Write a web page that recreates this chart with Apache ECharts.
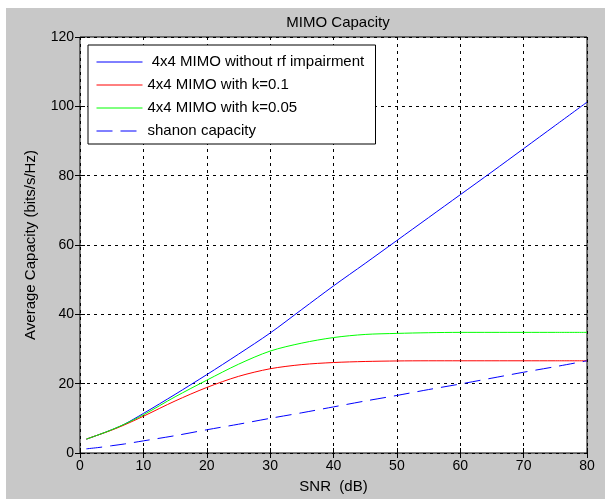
<!DOCTYPE html>
<html><head><meta charset="utf-8">
<script src="https://cdn.jsdelivr.net/npm/echarts@6/dist/echarts.min.js"></script>
<style>html,body{margin:0;padding:0;background:#fff}#c{width:605px;height:499px}</style>
</head><body><div id="c"></div>
<script>
var snr = [1, 3, 5, 7, 10, 15, 20, 25, 30, 35, 40, 45, 50, 55, 60, 65, 70, 75, 80];
var noImpairment = [4.0, 5.3, 6.7, 8.3, 11.4, 16.9, 22.6, 28.5, 34.6, 41.4, 48.2, 54.7, 61.3, 67.9, 74.5, 81.1, 87.8, 94.5, 101.2];
var k01 = [4.0, 5.3, 6.6, 8.1, 10.6, 15.0, 18.9, 22.1, 24.3, 25.5, 26.1, 26.4, 26.55, 26.6, 26.6, 26.6, 26.6, 26.6, 26.6];
var k005 = [4.0, 5.3, 6.7, 8.3, 11.0, 16.2, 21.0, 25.6, 29.4, 31.7, 33.3, 34.2, 34.5, 34.7, 34.8, 34.8, 34.8, 34.8, 34.8];
var shannon = [1.2, 1.6, 2.1, 2.6, 3.5, 5.0, 6.7, 8.3, 10.0, 11.6, 13.3, 15.0, 16.6, 18.3, 19.9, 21.6, 23.3, 24.9, 26.6];
var names = [' 4x4 MIMO without rf impairment', '4x4 MIMO with k=0.1', '4x4 MIMO with k=0.05', 'shanon capacity'];

function pairs(ys){ return snr.map(function(x,i){ return [x, ys[i]]; }); }
var font = 'Liberation Sans, Arial, sans-serif';
var chart = echarts.init(document.getElementById('c'));
var grid = {left: 80, top: 37, width: 507, height: 418};
function mk(name, ys, color, dashed){
  return {name: name, type: 'line', data: pairs(ys), showSymbol: false, symbol: 'none', smooth: 0.3,
    lineStyle: {color: color, width: 1, type: dashed ? [16, 8] : 'solid'}, itemStyle: {color: color},
    animation: false, z: 3};
}
var xBase = {type: 'value', min: 0, max: 80, interval: 10};
var yBase = {type: 'value', min: 0, max: 120, interval: 20};
chart.setOption({
  animation: false,
  backgroundColor: '#fff',
  graphic: [{type: 'rect', left: 6, top: 8, shape: {width: 600, height: 492}, style: {fill: '#c8c8c8'}, z: -10}],
  title: {text: 'MIMO Capacity', left: 333, top: 10, textAlign: 'center',
    textStyle: {fontFamily: font, fontSize: 15, fontWeight: 'normal', color: '#000'}},
  grid: Object.assign({show: true, backgroundColor: '#fff', borderColor: '#000', borderWidth: 1}, grid),
  legend: {orient: 'vertical', left: 88, top: 45, padding: [8, 8, 4, 8],
    backgroundColor: '#fff', borderColor: '#000', borderWidth: 1, borderRadius: 0,
    itemWidth: 46, itemHeight: 10, itemGap: 5,
    itemStyle: {opacity: 0}, lineStyle: {width: 1},
    textStyle: {fontFamily: font, fontSize: 15, lineHeight: 18, color: '#000', width: 220},
    data: names.map(function(n){ return {name: n}; })},
  xAxis: [
    Object.assign({}, xBase, {position: 'bottom', name: 'SNR  (dB)', nameLocation: 'middle', nameGap: 26,
      nameTextStyle: {fontFamily: font, fontSize: 15, color: '#000'},
      axisLine: {show: false}, axisTick: {inside: true, length: 5, lineStyle: {color: '#000'}},
      axisLabel: {fontFamily: font, fontSize: 14, color: '#000', margin: 6},
      splitLine: {show: true, lineStyle: {color: '#000', type: [3, 4], width: 1}}}),
    Object.assign({}, xBase, {position: 'top', axisLine: {show: false}, axisLabel: {show: false},
      axisTick: {inside: true, length: 5, lineStyle: {color: '#000'}}, splitLine: {show: false}})
  ],
  yAxis: [
    Object.assign({}, yBase, {position: 'left', name: 'Average Capacity (bits/s/Hz)', nameLocation: 'middle', nameGap: 42,
      nameTextStyle: {fontFamily: font, fontSize: 15, color: '#000'},
      axisLine: {show: false}, axisTick: {inside: true, length: 5, lineStyle: {color: '#000'}},
      axisLabel: {fontFamily: font, fontSize: 14, color: '#000', margin: 6},
      splitLine: {show: true, lineStyle: {color: '#000', type: [3, 4], width: 1}}}),
    Object.assign({}, yBase, {position: 'right', axisLine: {show: false}, axisLabel: {show: false},
      axisTick: {inside: true, length: 5, lineStyle: {color: '#000'}}, splitLine: {show: false}})
  ],
  series: [
    mk(names[0], noImpairment, '#0000ff', false),
    mk(names[1], k01, '#ff0000', false),
    mk(names[2], k005, '#00ff00', false),
    mk(names[3], shannon, '#0000ff', true)
  ]
});
</script></body></html>
